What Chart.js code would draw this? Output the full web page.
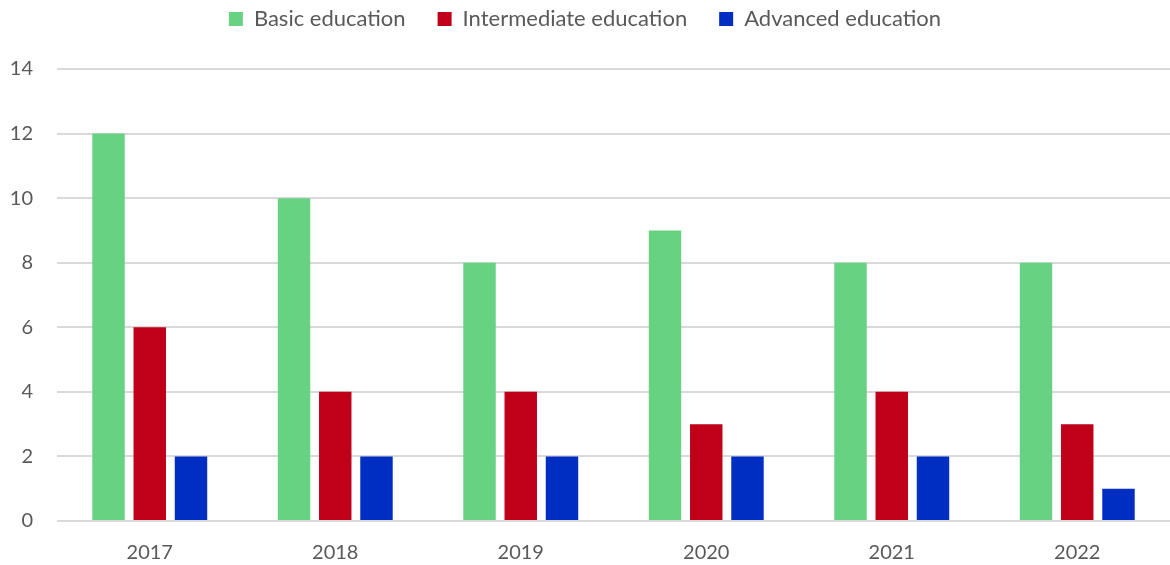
<!DOCTYPE html>
<html>
<head>
<meta charset="utf-8">
<script src="https://cdn.jsdelivr.net/npm/chart.js@4"></script>
<style>
  html, body { margin: 0; padding: 0; background: #fff; }
  #wrap { width: 1170px; height: 565px; }
</style>
</head>
<body>
<div id="wrap"><canvas id="chart"></canvas></div>
<script>
const years = ['2017', '2018', '2019', '2020', '2021', '2022'];
const basic = [12, 10, 8, 9, 8, 8];
const intermediate = [6, 4, 4, 3, 4, 3];
const advanced = [2, 2, 2, 2, 2, 1];
const yTicks = [0, 2, 4, 6, 8, 10, 12, 14];

const textColor = '#595959';
const font = "Lato, 'Open Sans', sans-serif";
const topPad = -24;

// make the legend block reach down to where the plot starts
const legendGap = {
    id: 'legendGap',
    beforeInit(chart) {
        const fit = chart.legend.fit;
        chart.legend.fit = function () {
            fit.call(this);
            this.height = 69 - topPad;
        };
    }
};

const ctx = document.getElementById('chart').getContext('2d');
new Chart(ctx, {
    type: 'bar',
    data: {
        labels: years,
        datasets: [
            { label: 'Basic education', data: basic, backgroundColor: '#66d282' },
            { label: 'Intermediate education', data: intermediate, backgroundColor: '#c00018' },
            { label: 'Advanced education', data: advanced, backgroundColor: '#002ec3' }
        ]
    },
    options: {
        responsive: true,
        maintainAspectRatio: false,
        animation: false,
        layout: { padding: { top: topPad, right: 0, left: 0, bottom: 0 } },
        datasets: {
            bar: { categoryPercentage: 0.667, barPercentage: 0.787 }
        },
        plugins: {
            legend: {
                position: 'top',
                labels: {
                    color: textColor,
                    font: { family: font, size: 22 },
                    boxWidth: 14,
                    boxHeight: 14,
                    padding: 32
                }
            },
            tooltip: { enabled: false }
        },
        scales: {
            x: {
                afterFit: axis => { axis.height = 44; },
                grid: { display: false },
                border: { display: false },
                ticks: { color: textColor, font: { family: font, size: 20 }, padding: 12 }
            },
            y: {
                min: 0,
                max: 14,
                afterBuildTicks: axis => { axis.ticks = yTicks.map(v => ({ value: v })); },
                afterFit: axis => { axis.width = 57; },
                grid: { color: '#d9d9d9', lineWidth: 2, drawTicks: false },
                border: { display: false },
                ticks: { color: textColor, font: { family: font, size: 20 }, padding: 24 }
            }
        }
    },
    plugins: [legendGap]
});
</script>
</body>
</html>
